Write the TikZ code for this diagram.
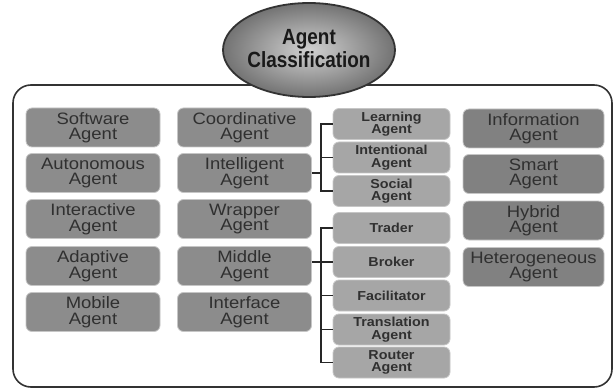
\documentclass[tikz,border=0pt]{standalone}
\usepackage{fontspec}
\setmainfont{Liberation Sans}
\newfontfamily\boxfont[FakeStretch=1.12]{Liberation Sans}
\newfontfamily\subfont[FakeStretch=1.1]{Liberation Sans}
\newfontfamily\titlefont[FakeStretch=0.86]{Liberation Sans}
\usetikzlibrary{shadings}
\definecolor{boxmid}{HTML}{8C8C8C}
\definecolor{boxlight}{HTML}{A6A6A6}
\definecolor{boxdark}{HTML}{818181}
\definecolor{ink}{HTML}{303030}
\tikzset{
  x=1pt, y=-1pt,
  agentbox/.style={draw=gray!45, line width=0.8pt, rounded corners=6pt,
    minimum width=134pt, minimum height=39pt, inner sep=0pt, align=center,
    text=ink, font=\boxfont\fontsize{16.5}{15.5}\selectfont},
  mainbox/.style={agentbox, fill=boxmid},
  sidebox/.style={agentbox, fill=boxdark, minimum width=141pt},
  subbox/.style={agentbox, fill=boxlight, minimum width=117pt, minimum height=31pt,
    font=\subfont\bfseries\fontsize{13}{12.5}\selectfont},
  link/.style={draw=black!85, line width=1.2pt}
}
\begin{document}
\begin{tikzpicture}
\useasboundingbox (0,0) rectangle (615,390);
% outer frame
\draw[line width=1.6pt, draw=black!80, rounded corners=18pt] (13,85) rectangle (612,387);
% title ellipse
\shade[outer color=black!55, inner color=black!18, shading=radial]
  (309,50) ellipse [x radius=86, y radius=47];
\draw[line width=1.8pt, draw=black!80] (309,50) ellipse [x radius=86, y radius=47];
\node (title) at (309,49) [align=center, text=black!90,
  font=\titlefont\bfseries\fontsize{22}{23}\selectfont] {Agent\\Classification};
% first column
\node[mainbox] (software)    at (93,127.5) {Software\\Agent};
\node[mainbox] (autonomous)  at (93,173)   {Autonomous\\Agent};
\node[mainbox] (interactive) at (93,219)   {Interactive\\Agent};
\node[mainbox] (adaptive)    at (93,266)   {Adaptive\\Agent};
\node[mainbox] (mobile)      at (93,312)   {Mobile\\Agent};
% second column
\node[mainbox] (coordinative) at (244.5,127.5) {Coordinative\\Agent};
\node[mainbox] (intelligent)  at (244.5,173)   {Intelligent\\Agent};
\node[mainbox] (wrapper)      at (244.5,219)   {Wrapper\\Agent};
\node[mainbox] (middle)       at (244.5,266)   {Middle\\Agent};
\node[mainbox] (interface)    at (244.5,312)   {Interface\\Agent};
% third column: kinds of intelligent and middle agents
\node[subbox] (learning)    at (391.5,124)   {Learning\\Agent};
\node[subbox] (intentional) at (391.5,157.5) {Intentional\\Agent};
\node[subbox] (social)      at (391.5,191)   {Social\\Agent};
\node[subbox] (trader)      at (391.5,228)   {Trader};
\node[subbox] (broker)      at (391.5,262)   {Broker};
\node[subbox] (facilitator) at (391.5,295.5) {Facilitator};
\node[subbox] (translation) at (391.5,329.5) {Translation\\Agent};
\node[subbox] (router)      at (391.5,362.5) {Router\\Agent};
% fourth column
\node[sidebox] (information)   at (533.5,128.5) {Information\\Agent};
\node[sidebox] (smart)         at (533.5,174)   {Smart\\Agent};
\node[sidebox] (hybrid)        at (533.5,220.5) {Hybrid\\Agent};
\node[sidebox] (heterogeneous) at (533.5,267)   {Heterogeneous\\Agent};
% branching connectors
\coordinate (jA) at (321,173);
\coordinate (jB) at (321,262);
\draw[link] (intelligent.east |- jA) -- (jA);
\draw[link] (learning.west) -| (jA) |- (social.west);
\draw[link] (jA |- intentional.west) -- (intentional.west);
\draw[link] (middle.east |- jB) -- (jB);
\draw[link] (trader.west) -| (jB) |- (router.west);
\draw[link] (jB |- broker.west) -- (broker.west);
\draw[link] (jB |- facilitator.west) -- (facilitator.west);
\draw[link] (jB |- translation.west) -- (translation.west);
\end{tikzpicture}
\end{document}
